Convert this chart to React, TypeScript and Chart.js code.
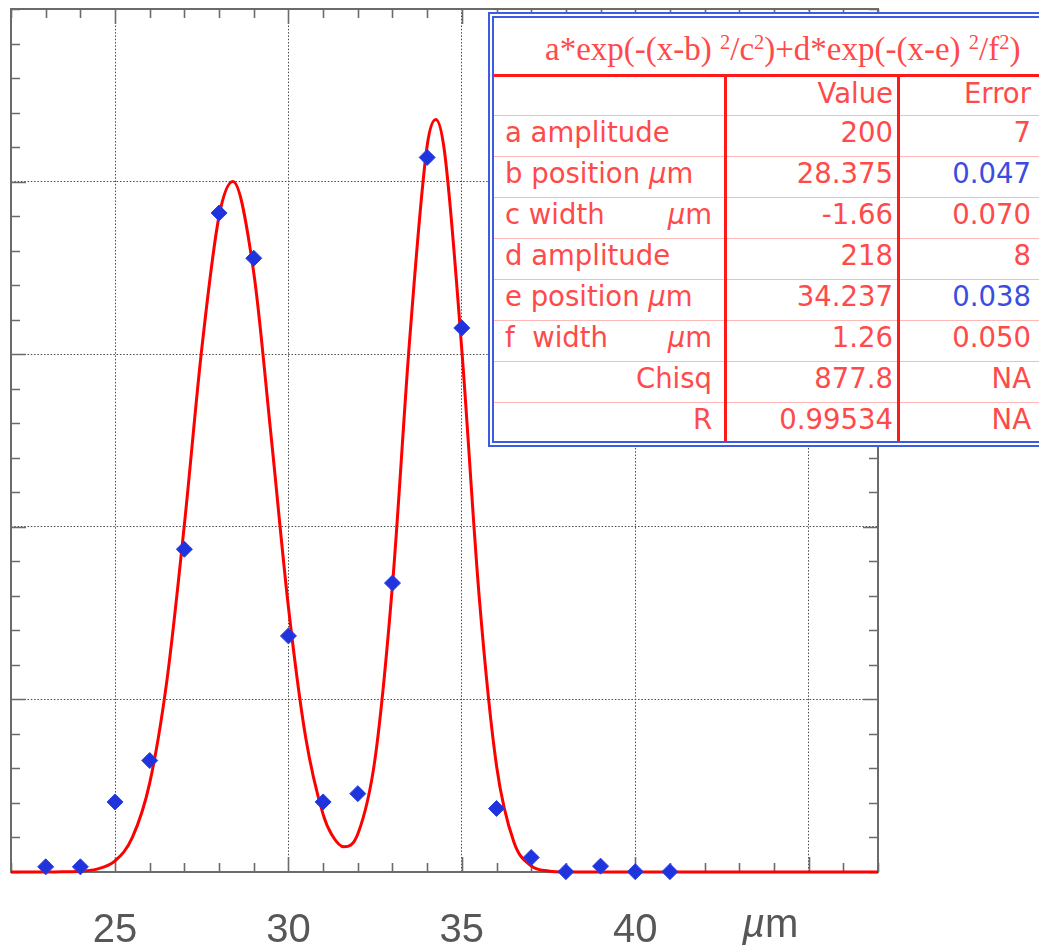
import React, { useEffect, useRef } from "react";
import { Chart, registerables } from "chart.js";

Chart.register(...registerables);

// ---- measured data (blue diamonds) ----
const measuredX = [23, 24, 25, 26, 27, 28, 29, 30, 31, 32, 33, 34, 35, 36, 37, 38, 39, 40, 41];
const measuredY = [1.5, 1.5, 20.3, 32.3, 93.5, 190.9, 177.8, 68.4, 20.3, 22.7, 83.7, 207, 157.6, 18.4, 4.2, 0.1, 1.7, 0.1, 0.1];

// ---- fitted curve (red) ----
const fitX = [22, 23, 23.5, 24, 24.5, 25, 25.5, 26, 26.5, 27, 27.5, 28, 28.4, 29, 29.5, 30, 30.5, 31, 31.25, 31.6, 32, 32.5, 33, 33.5, 34, 34.25, 34.5, 35, 35.5, 36, 36.5, 37, 37.5, 38, 39, 47];
const fitY = [0, 0, 0.05, 0.2, 0.9, 3.2, 10.0, 25.8, 55.8, 100.7, 151.5, 190, 200, 173.6, 126.3, 76.7, 38.8, 16.7, 10.8, 7.3, 11.0, 33.0, 83.2, 154.8, 210.4, 218, 208.7, 151.1, 79.8, 30.8, 8.7, 1.8, 0.3, 0, 0, 0];

// ---- axes ----
const xMin = 22;
const xMax = 47;
const yMin = 0;
const yMax = 250;
const xMajorTicks = [25, 30, 35, 40, 45];
const xTickLabels = ["25", "30", "35", "40"];
const yMajorTicks = [50, 100, 150, 200];
const xMinorStep = 1;
const yMinorStep = 10;
const xAxisUnit = "m";

// ---- fit table ----
const fitFormulaParts = ["a*exp(-(x-b) ", "2", "/c", "2", ")+d*exp(-(x-e) ", "2", "/f", "2", ")"];
const paramNames = ["a amplitude", "b position", "c width", "d amplitude", "e position", "f  width", "Chisq", "R"];
const paramUnits = ["", "µm", "µm", "", "µm", "µm", "", ""];
const paramValues = ["200", "28.375", "-1.66", "218", "34.237", "1.26", "877.8", "0.99534"];
const paramErrors = ["7", "0.047", "0.070", "8", "0.038", "0.050", "NA", "NA"];
const errorHighlighted = [false, true, false, false, true, false, false, false];

const framePlugin = {
  id: "kgFrame",
  beforeDatasetsDraw(chart: any) {
    const { ctx, chartArea } = chart;
    const xs = chart.scales.x;
    const ys = chart.scales.y;
    const { left, right, top, bottom } = chartArea;
    ctx.save();
    ctx.strokeStyle = "#6b6b6b";
    ctx.lineWidth = 1.6;
    ctx.beginPath();
    for (let v = xMin; v <= xMax + 1e-9; v += xMinorStep) {
      const px = Math.round(xs.getPixelForValue(v)) + 0.5;
      const major = xMajorTicks.includes(v);
      const len = major ? 15 : 9;
      ctx.moveTo(px, bottom);
      ctx.lineTo(px, bottom - len);
      ctx.moveTo(px, top);
      ctx.lineTo(px, top + len);
    }
    for (let v = yMin; v <= yMax + 1e-9; v += yMinorStep) {
      const py = Math.round(ys.getPixelForValue(v)) + 0.5;
      const major = yMajorTicks.includes(v);
      const len = major ? 15 : 9;
      ctx.moveTo(left, py);
      ctx.lineTo(left + len, py);
      ctx.moveTo(right, py);
      ctx.lineTo(right - len, py);
    }
    ctx.stroke();
    ctx.lineWidth = 2;
    ctx.strokeRect(left, top, right - left, bottom - top);
    ctx.restore();
  },
  afterDraw(chart: any) {
    const { ctx, chartArea } = chart;
    const xs = chart.scales.x;
    ctx.save();
    ctx.fillStyle = "#575757";
    ctx.font = "40px 'Liberation Sans', Arial, sans-serif";
    ctx.textAlign = "center";
    ctx.textBaseline = "alphabetic";
    xTickLabels.forEach((t) => {
      const v = parseFloat(t);
      ctx.fillText(t, xs.getPixelForValue(v), chartArea.bottom + 70);
    });
    ctx.restore();
  },
};

export default function App() {
  const canvasRef = useRef<HTMLCanvasElement | null>(null);

  useEffect(() => {
    const canvas = canvasRef.current;
    if (!canvas) return;
    const chart = new Chart(canvas, {
      type: "scatter",
      data: {
        datasets: [
          {
            label: "data",
            data: measuredX.map((x, i) => ({ x, y: measuredY[i] })),
            pointStyle: "rectRot",
            pointRadius: 8,
            pointHoverRadius: 8,
            backgroundColor: "#1f34dc",
            borderColor: "#2a3fe0",
            borderWidth: 1,
            showLine: false,
            order: 0,
            clip: false,
          } as any,
          {
            label: "fit",
            data: fitX.map((x, i) => ({ x, y: fitY[i] })),
            showLine: true,
            borderColor: "#ff0000",
            borderWidth: 3,
            pointRadius: 0,
            pointHoverRadius: 0,
            cubicInterpolationMode: "monotone",
            order: 1,
            clip: false,
          } as any,
        ],
      },
      options: {
        animation: false,
        responsive: false,
        devicePixelRatio: 1,
        events: [],
        layout: { padding: { left: 11, top: 6, right: 161, bottom: 77 } },
        plugins: { legend: { display: false }, tooltip: { enabled: false }, title: { display: false } },
        scales: {
          x: {
            type: "linear",
            min: xMin,
            max: xMax,
            afterBuildTicks: (scale: any) => {
              scale.ticks = xMajorTicks.map((v) => ({ value: v }));
            },
            ticks: { display: false },
            grid: { color: "#4a4a4a", lineWidth: 1, drawTicks: false },
            border: { display: false, dash: [1.5, 1.8] },
          },
          y: {
            type: "linear",
            min: yMin,
            max: yMax,
            afterBuildTicks: (scale: any) => {
              scale.ticks = yMajorTicks.map((v) => ({ value: v }));
            },
            ticks: { display: false },
            grid: { color: "#4a4a4a", lineWidth: 1, drawTicks: false },
            border: { display: false, dash: [1.5, 1.8] },
          },
        },
      } as any,
      plugins: [framePlugin],
    });
    return () => chart.destroy();
  }, []);

  const textRed = "#ff4a4a";
  const lineRed = "#ff1a1a";
  const blueText = "#3a4de0";
  const sans = "'DejaVu Sans', Verdana, sans-serif";
  const fs = 27.5;

  const rowTop = (i: number) => 115 + 41 * i;
  const rowH = (i: number) => (i === paramNames.length - 1 ? 39 : 41);

  return (
    <div style={{ position: "absolute", left: 0, top: 0, width: 1039, height: 949, overflow: "hidden", background: "#fff" }}>
      <canvas ref={canvasRef} width={1039} height={949} style={{ display: "block", position: "absolute", left: 0, top: 0 }} />
      {/* x axis unit */}
      <div style={{ position: "absolute", left: 742, top: 900, font: "40px 'Liberation Sans', Arial, sans-serif", color: "#575757", lineHeight: "46px", whiteSpace: "nowrap" }}>
        <i>µ</i>{xAxisUnit}
      </div>
      {/* fit table */}
      <div style={{ position: "absolute", left: 488, top: 12, width: 700, height: 435, boxSizing: "border-box", border: "6px double #3c5ce4", background: "#fff" }} />
      <div style={{ position: "absolute", left: 545, top: 31, font: "33px 'Liberation Serif', 'Times New Roman', serif", color: textRed, lineHeight: "36px", whiteSpace: "pre" }}>
        {fitFormulaParts.map((p, i) =>
          i % 2 === 1 ? (
            <sup key={i} style={{ fontSize: "0.62em", verticalAlign: "0.55em", lineHeight: 0 }}>{p}</sup>
          ) : (
            <span key={i}>{p}</span>
          )
        )}
      </div>
      <div style={{ position: "absolute", left: 494, top: 74, width: 700, height: 3, background: lineRed }} />
      {paramNames.map((_, i) => (
        <div key={"rl" + i} style={{ position: "absolute", left: 494, top: rowTop(i), width: 700, height: 1, background: "#ffb8b8" }} />
      ))}
      <div style={{ position: "absolute", left: 724, top: 77, width: 3, height: 364, background: lineRed }} />
      <div style={{ position: "absolute", left: 897, top: 77, width: 3, height: 364, background: lineRed }} />
      {/* header row */}
      <div style={{ position: "absolute", left: 727, top: 77, width: 166, height: 38, lineHeight: "36px", textAlign: "right", font: `${fs}px ${sans}`, color: textRed }}>Value</div>
      <div style={{ position: "absolute", left: 900, top: 77, width: 131, height: 38, lineHeight: "36px", textAlign: "right", font: `${fs}px ${sans}`, color: textRed, whiteSpace: "nowrap" }}>Error</div>
      {paramNames.map((name, i) => {
        const top = rowTop(i) + 1;
        const h = rowH(i) - 1;
        const rightOnly = paramUnits[i] === "" && (name === "Chisq" || name === "R");
        const unitRight = name.includes("width");
        const common: React.CSSProperties = { position: "absolute", top, height: h, lineHeight: `${h}px`, font: `${fs}px ${sans}`, color: textRed, whiteSpace: "pre" };
        return (
          <React.Fragment key={"row" + i}>
            {rightOnly ? (
              <div style={{ ...common, left: 505, width: 207, textAlign: "right" }}>{name}</div>
            ) : unitRight ? (
              <>
                <div style={{ ...common, left: 505, width: 207 }}>{name}</div>
                <div style={{ ...common, left: 505, width: 207, textAlign: "right" }}>
                  <i>µ</i>m
                </div>
              </>
            ) : (
              <div style={{ ...common, left: 505, width: 207 }}>
                {name}
                {paramUnits[i] ? (
                  <>
                    {" "}
                    <i>µ</i>m
                  </>
                ) : null}
              </div>
            )}
            <div style={{ ...common, left: 727, width: 166, textAlign: "right" }}>{paramValues[i]}</div>
            <div style={{ ...common, left: 900, width: 131, textAlign: "right", color: errorHighlighted[i] ? blueText : textRed }}>{paramErrors[i]}</div>
          </React.Fragment>
        );
      })}
    </div>
  );
}
